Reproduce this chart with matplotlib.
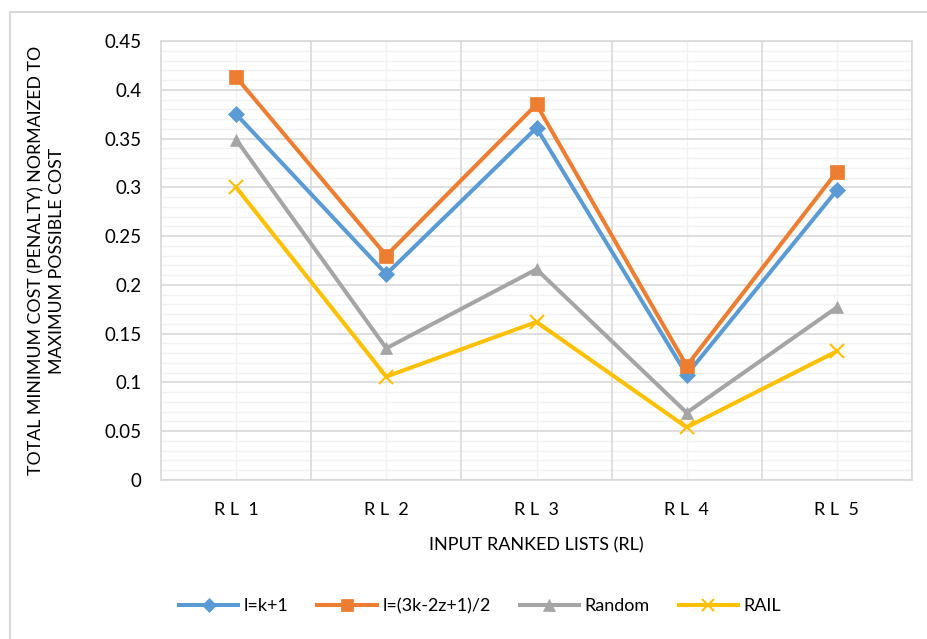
import matplotlib
matplotlib.use("Agg")
import matplotlib.pyplot as plt
from matplotlib.lines import Line2D
from matplotlib.ticker import MultipleLocator, FixedLocator

plt.rcParams['font.family'] = ['Lato', 'DejaVu Sans']

categories = ["R L  1", "R L  2", "R L  3", "R L  4", "R L  5"]
series_names = ["l=k+1", "l=(3k-2z+1)/2", "Random", "RAIL"]
s_lk1 = [0.375, 0.211, 0.361, 0.108, 0.297]
s_l3k = [0.413, 0.230, 0.385, 0.117, 0.316]
s_random = [0.349, 0.135, 0.216, 0.069, 0.177]
s_rail = [0.300, 0.106, 0.162, 0.054, 0.132]
yticks = [0, 0.05, 0.1, 0.15, 0.2, 0.25, 0.3, 0.35, 0.4, 0.45]
ytick_labels = ["0", "0.05", "0.1", "0.15", "0.2", "0.25", "0.3", "0.35", "0.4", "0.45"]

colors = ["#5B9BD5", "#ED7D31", "#A5A5A5", "#FFC000"]
markers = ["D", "s", "^", "x"]
msizes = [8, 10, 9, 10]

W, H = 928, 639
fig = plt.figure(figsize=(W / 100, H / 100), dpi=100)
ax = fig.add_axes([161 / W, 1 - 480 / H, (912 - 161) / W, (480 - 41) / H])

x = list(range(len(categories)))
all_series = [s_lk1, s_l3k, s_random, s_rail]
for vals, name, c, m, ms in zip(all_series, series_names, colors, markers, msizes):
    ax.plot(x, vals, color=c, lw=2.9, marker=m, markersize=ms,
            markeredgewidth=1.5 if m == "x" else 0.5, markeredgecolor=c,
            markerfacecolor=c, label=name, zorder=3, solid_joinstyle='miter')

ax.set_xlim(-0.5, len(categories) - 0.5)
ax.set_ylim(0, 0.45)
ax.set_yticks(yticks)
ax.set_yticklabels(ytick_labels)
ax.yaxis.set_minor_locator(MultipleLocator(0.01))
ax.set_xticks(x)
ax.set_xticklabels(categories)
ax.xaxis.set_minor_locator(FixedLocator([i + 0.5 for i in range(-1, len(categories))]))

# gridlines: light minors first, darker majors on top
ax.grid(which='minor', axis='y', color='#F2F2F2', lw=1.0, zorder=0.5)
ax.grid(which='major', axis='x', color='#F2F2F2', lw=1.0, zorder=0.5)
ax.grid(which='major', axis='y', color='#D9D9D9', lw=1.2, zorder=0.5)
for xb in [i + 0.5 for i in range(-1, len(categories))]:
    ax.axvline(xb, color='#D9D9D9', lw=1.2, zorder=1)
ax.set_axisbelow(True)

for sp in ['top', 'right', 'left', 'bottom']:
    ax.spines[sp].set_color('#D9D9D9')
    ax.spines[sp].set_linewidth(1.2)

ax.tick_params(which='both', length=0)
ax.tick_params(axis='y', labelsize=13.5, colors='#000000', pad=14)
ax.tick_params(axis='x', labelsize=13, colors='#000000', pad=16)

ax.set_xlabel("INPUT RANKED LISTS (RL)", fontsize=13, labelpad=14)
ax.set_ylabel("TOTAL MINIMUM COST (PENALTY) NORMAIZED TO\nMAXIMUM POSSIBLE COST",
              fontsize=12.8, labelpad=28, linespacing=1.4)

leg_handles = [Line2D([0], [0], color=c, lw=2.9, marker=m, markersize=ms * 0.9,
                      markeredgecolor=c, markerfacecolor=c,
                      markeredgewidth=1.5 if m == "x" else 0.5)
               for c, m, ms in zip(colors, markers, msizes)]
fig.legend(leg_handles, series_names, loc='center', bbox_to_anchor=(480 / W, 1 - 606 / H),
           ncol=4, frameon=False, fontsize=13, handlelength=3.3, columnspacing=1.6,
           handletextpad=0.3)

# chart-area border
fig.add_artist(Line2D([10 / W, 10 / W], [0, 1 - 12 / H], transform=fig.transFigure,
                      color='#D9D9D9', lw=1.5))
fig.add_artist(Line2D([10 / W, 1], [1 - 12 / H, 1 - 12 / H], transform=fig.transFigure,
                      color='#D9D9D9', lw=1.5))

fig.savefig("out.png", dpi=100)
